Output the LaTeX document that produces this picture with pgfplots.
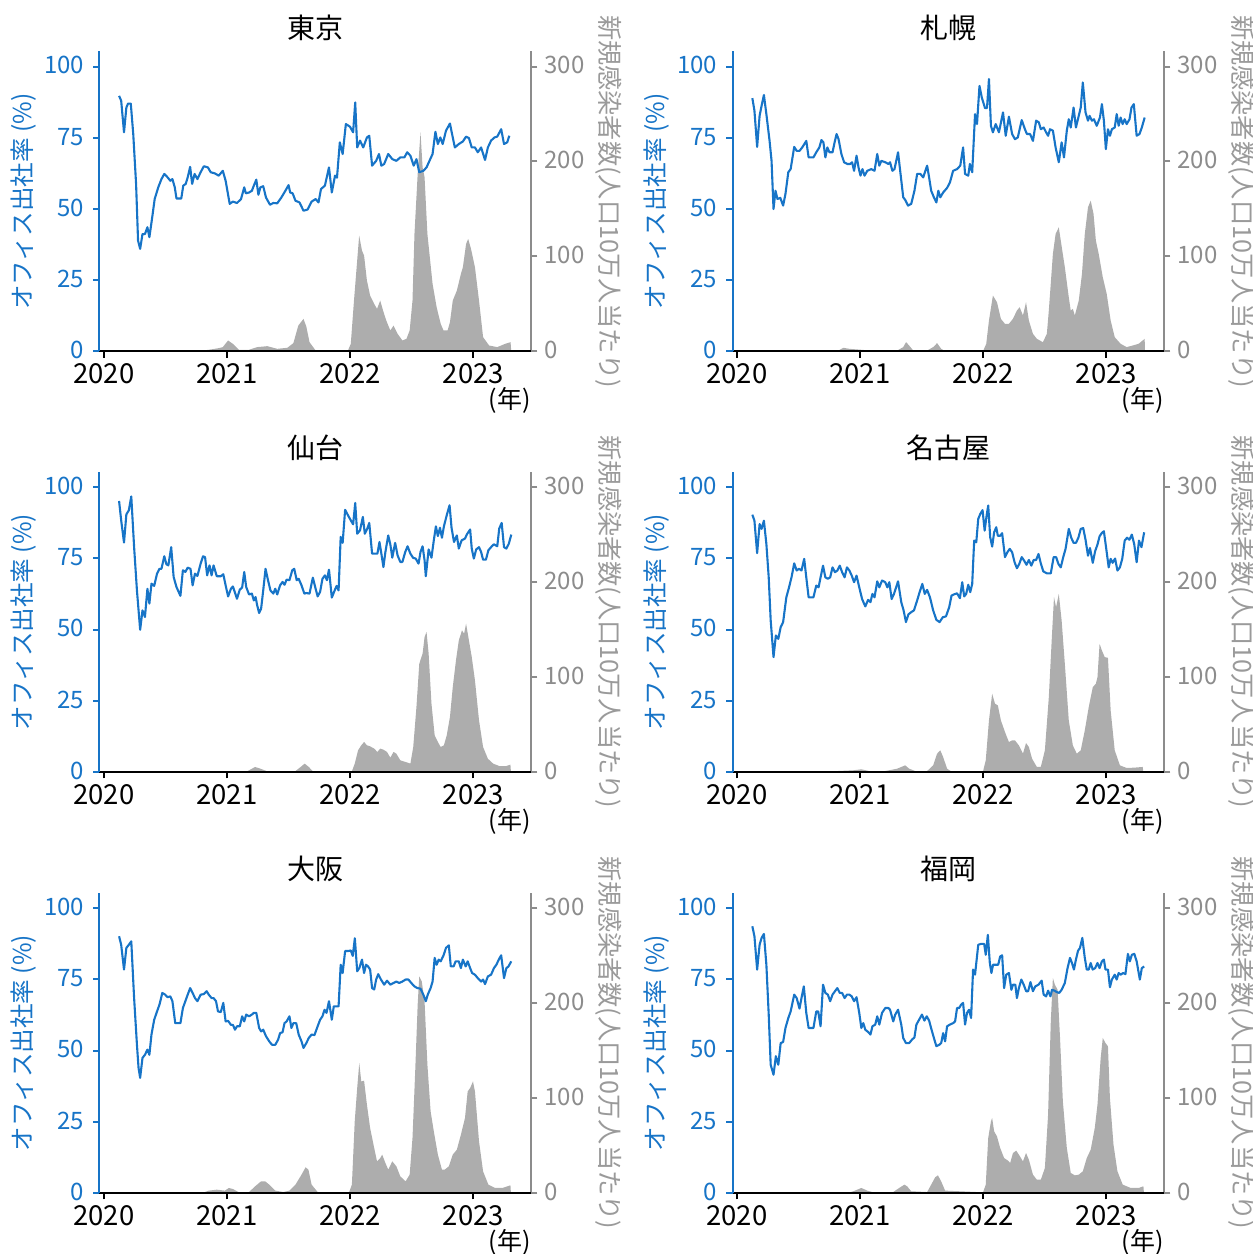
\documentclass[border=0pt]{standalone}
\usepackage{fontspec}
\setmainfont{Noto Sans CJK JP}
\usepackage{pgfplots}
\usepackage{pgfplotstable}
\pgfplotsset{compat=1.18}
\definecolor{lineblue}{HTML}{1774C7}
\definecolor{areagray}{HTML}{ADADAD}
\definecolor{axgray}{HTML}{8C8C8C}
\definecolor{labgray}{HTML}{9A9A9A}

% ---------------- Tokyo ----------------
\pgfplotstableread{
x y
2020.124 89.7
2020.141 88.0
2020.164 76.9
2020.183 85.6
2020.197 87.0
2020.219 87.0
2020.239 76.3
2020.262 58.8
2020.278 38.9
2020.295 36.0
2020.314 41.2
2020.334 41.2
2020.354 43.6
2020.370 40.1
2020.393 47.1
2020.413 53.5
2020.442 57.6
2020.468 60.5
2020.491 62.3
2020.518 61.1
2020.540 59.9
2020.557 60.5
2020.576 57.6
2020.590 53.7
2020.629 53.7
2020.645 58.2
2020.665 58.8
2020.681 61.1
2020.701 64.8
2020.717 58.8
2020.737 62.3
2020.760 60.5
2020.786 62.9
2020.812 65.0
2020.845 64.6
2020.868 62.9
2020.901 62.5
2020.933 61.7
2020.966 63.4
2020.989 59.9
2021.022 51.8
2021.048 52.6
2021.081 52.1
2021.114 53.5
2021.140 57.6
2021.153 55.5
2021.179 55.8
2021.202 56.4
2021.218 58.2
2021.238 60.3
2021.255 55.0
2021.271 57.6
2021.294 58.0
2021.317 54.0
2021.349 51.5
2021.376 52.1
2021.408 52.0
2021.441 54.0
2021.474 56.4
2021.500 58.4
2021.513 55.8
2021.533 55.5
2021.556 52.9
2021.589 52.3
2021.621 49.4
2021.654 49.8
2021.687 52.6
2021.720 53.5
2021.743 52.3
2021.763 57.0
2021.795 58.2
2021.828 64.6
2021.851 55.8
2021.877 61.7
2021.893 61.0
2021.916 73.4
2021.939 69.3
2021.965 79.8
2021.998 78.9
2022.024 76.9
2022.041 87.4
2022.057 71.6
2022.080 74.0
2022.106 71.6
2022.136 75.1
2022.155 75.7
2022.178 65.2
2022.211 66.9
2022.234 69.3
2022.253 65.2
2022.276 65.8
2022.309 69.3
2022.342 67.5
2022.375 66.9
2022.407 68.1
2022.440 68.1
2022.463 69.9
2022.489 68.7
2022.516 65.2
2022.538 67.5
2022.561 62.9
2022.594 63.4
2022.620 64.6
2022.647 67.2
2022.669 69.3
2022.692 77.1
2022.712 72.8
2022.732 75.1
2022.751 72.8
2022.778 77.5
2022.810 80.0
2022.833 75.1
2022.850 71.6
2022.882 72.8
2022.915 73.7
2022.941 75.4
2022.964 74.9
2022.987 71.6
2023.013 71.6
2023.036 69.9
2023.063 71.6
2023.095 67.2
2023.118 71.6
2023.144 74.0
2023.171 75.1
2023.194 75.4
2023.226 78.0
2023.249 72.8
2023.275 73.4
2023.292 75.7
}\tokyoline
\pgfplotstableread{
x y
2020.000 0
2020.450 0
2020.520 1.5
2020.600 0.5
2020.800 1.0
2020.852 1.8
2020.933 3.5
2020.966 4.6
2021.009 11.6
2021.048 8.0
2021.097 1.8
2021.179 1.8
2021.245 4.6
2021.327 5.6
2021.408 2.8
2021.490 3.9
2021.539 8.8
2021.579 27.3
2021.621 34.3
2021.644 26.3
2021.670 9.8
2021.720 1.0
2021.982 1.0
2022.005 8.0
2022.031 53.6
2022.073 122.0
2022.096 106.2
2022.113 100.9
2022.136 74.7
2022.162 58.9
2022.195 50.1
2022.218 44.9
2022.244 53.6
2022.267 43.1
2022.293 32.6
2022.326 22.1
2022.352 27.3
2022.385 18.6
2022.424 11.6
2022.457 13.3
2022.483 22.1
2022.506 53.6
2022.522 123.7
2022.548 186.8
2022.571 230.6
2022.588 193.8
2022.604 183.3
2022.627 123.7
2022.669 71.2
2022.702 46.6
2022.735 29.1
2022.758 22.1
2022.791 22.1
2022.810 30.8
2022.833 53.6
2022.866 64.1
2022.899 81.7
2022.915 88.7
2022.941 113.2
2022.958 118.5
2022.981 108.0
2023.013 88.7
2023.046 53.6
2023.079 15.1
2023.128 6.3
2023.194 4.6
2023.259 8.1
2023.302 9.8
2023.308 0
}\tokyoarea

% ---------------- Sapporo ----------------
\pgfplotstableread{
x y
2020.126 88.9
2020.143 84.5
2020.165 71.8
2020.185 82.7
2020.201 86.2
2020.220 90.0
2020.240 83.3
2020.266 73.9
2020.282 66.9
2020.298 50.0
2020.314 56.4
2020.330 53.5
2020.353 53.9
2020.376 51.2
2020.395 55.3
2020.418 62.9
2020.437 64.0
2020.466 71.8
2020.486 70.4
2020.509 70.4
2020.531 71.6
2020.564 73.9
2020.583 68.1
2020.622 68.1
2020.645 69.9
2020.670 71.6
2020.687 74.2
2020.703 73.4
2020.719 68.1
2020.735 71.6
2020.752 69.9
2020.777 69.9
2020.794 73.4
2020.810 76.3
2020.826 74.5
2020.849 69.3
2020.871 66.4
2020.897 65.8
2020.920 65.8
2020.936 66.4
2020.952 63.4
2020.972 68.7
2020.988 64.6
2021.004 61.7
2021.020 64.0
2021.037 61.7
2021.059 63.4
2021.092 64.0
2021.118 63.4
2021.140 69.3
2021.157 65.2
2021.173 66.9
2021.205 66.4
2021.231 65.8
2021.244 66.4
2021.263 63.4
2021.280 64.0
2021.309 69.9
2021.351 54.1
2021.367 53.2
2021.390 51.2
2021.416 51.8
2021.442 56.4
2021.464 62.3
2021.490 62.3
2021.513 61.1
2021.545 65.2
2021.561 61.1
2021.578 56.4
2021.600 54.1
2021.620 52.3
2021.636 56.4
2021.652 54.1
2021.675 55.8
2021.707 57.4
2021.730 59.3
2021.756 63.4
2021.788 64.0
2021.814 65.2
2021.837 71.6
2021.853 62.3
2021.879 61.7
2021.892 65.8
2021.911 62.9
2021.934 83.3
2021.950 79.8
2021.970 93.2
2021.989 89.1
2022.015 85.4
2022.031 85.4
2022.047 95.6
2022.063 79.2
2022.079 76.9
2022.102 79.8
2022.128 76.9
2022.161 83.9
2022.183 75.7
2022.209 82.4
2022.235 76.3
2022.258 74.5
2022.281 75.1
2022.313 81.2
2022.339 78.0
2022.355 76.3
2022.381 76.3
2022.404 73.9
2022.430 81.0
2022.452 80.4
2022.468 78.0
2022.491 78.6
2022.511 76.9
2022.527 75.7
2022.543 78.0
2022.566 77.5
2022.588 71.6
2022.614 66.4
2022.637 73.4
2022.656 68.1
2022.679 77.5
2022.695 81.5
2022.711 78.6
2022.734 85.6
2022.753 78.6
2022.776 82.7
2022.792 85.6
2022.809 94.4
2022.831 83.9
2022.851 81.0
2022.864 82.7
2022.883 81.0
2022.899 81.5
2022.922 79.2
2022.948 82.1
2022.964 86.8
2022.980 81.0
2022.996 71.0
2023.013 78.0
2023.029 75.7
2023.045 78.0
2023.068 78.6
2023.084 83.3
2023.100 79.2
2023.116 82.1
2023.132 79.8
2023.149 81.5
2023.165 79.8
2023.188 81.5
2023.204 85.6
2023.223 86.8
2023.246 75.7
2023.269 76.3
2023.288 78.6
2023.311 82.1
}\sapporoline
\pgfplotstableread{
x y
2020.000 0
2020.780 0
2020.816 0.4
2020.865 3.9
2020.913 2.8
2021.011 1.8
2021.075 1.0
2021.302 1.0
2021.351 4.6
2021.374 9.8
2021.399 6.3
2021.432 1.0
2021.545 1.0
2021.594 4.6
2021.626 8.8
2021.659 2.8
2021.691 0.4
2021.999 0.4
2022.025 8.1
2022.047 32.6
2022.079 58.9
2022.112 51.9
2022.144 34.3
2022.177 29.1
2022.209 29.1
2022.241 34.3
2022.274 43.1
2022.296 46.6
2022.323 37.9
2022.348 51.9
2022.371 32.6
2022.404 18.6
2022.436 13.3
2022.485 9.8
2022.517 18.6
2022.533 43.1
2022.566 102.7
2022.588 123.7
2022.614 130.7
2022.630 116.7
2022.663 88.7
2022.695 57.1
2022.711 43.1
2022.728 44.9
2022.744 37.9
2022.776 53.6
2022.802 81.7
2022.825 123.7
2022.851 151.8
2022.873 158.8
2022.896 144.8
2022.915 116.7
2022.938 102.7
2022.971 78.2
2023.003 60.6
2023.035 32.6
2023.068 15.1
2023.116 8.1
2023.165 4.6
2023.214 6.3
2023.262 8.1
2023.311 13.3
2023.314 0
}\sapporoarea

% ---------------- Sendai ----------------
\pgfplotstableread{
x y
2020.124 95.1
2020.141 88.3
2020.164 80.5
2020.183 90.4
2020.203 91.8
2020.223 96.7
2020.246 78.9
2020.269 63.7
2020.295 49.9
2020.314 56.7
2020.334 54.4
2020.354 64.3
2020.370 59.1
2020.387 66.1
2020.409 65.3
2020.432 69.6
2020.452 71.3
2020.468 71.3
2020.491 75.7
2020.508 72.9
2020.524 72.5
2020.547 78.9
2020.567 68.4
2020.590 64.9
2020.622 61.8
2020.642 70.8
2020.662 70.2
2020.681 71.7
2020.704 71.3
2020.721 65.5
2020.740 69.6
2020.760 68.8
2020.786 73.1
2020.806 75.7
2020.822 75.4
2020.839 69.0
2020.858 72.5
2020.875 69.0
2020.891 72.5
2020.917 68.7
2020.950 68.7
2020.970 69.4
2020.989 65.5
2021.009 61.6
2021.032 64.3
2021.048 65.1
2021.081 60.8
2021.104 64.0
2021.123 64.7
2021.140 70.2
2021.156 64.9
2021.179 62.3
2021.202 62.6
2021.218 60.2
2021.232 61.4
2021.245 58.5
2021.261 55.8
2021.277 57.3
2021.294 63.7
2021.313 71.3
2021.333 67.3
2021.353 63.7
2021.376 62.6
2021.392 64.3
2021.408 62.3
2021.431 65.5
2021.451 66.7
2021.467 65.7
2021.484 67.5
2021.507 67.3
2021.530 70.8
2021.546 71.3
2021.566 67.3
2021.582 67.8
2021.605 65.5
2021.628 62.6
2021.644 62.8
2021.670 62.6
2021.697 68.2
2021.716 64.9
2021.736 61.6
2021.756 63.2
2021.775 67.8
2021.795 69.0
2021.811 67.3
2021.828 71.0
2021.851 61.2
2021.874 63.7
2021.890 65.3
2021.906 63.7
2021.923 82.5
2021.939 80.4
2021.959 92.0
2021.982 90.1
2022.005 88.3
2022.024 86.9
2022.041 94.4
2022.057 83.6
2022.080 84.8
2022.103 89.5
2022.119 83.6
2022.139 85.4
2022.155 87.4
2022.178 76.6
2022.201 76.6
2022.221 76.6
2022.238 80.7
2022.254 76.4
2022.270 71.9
2022.286 77.2
2022.309 83.0
2022.326 79.9
2022.342 75.2
2022.365 80.4
2022.385 76.0
2022.407 73.7
2022.424 73.7
2022.447 77.2
2022.466 79.2
2022.489 76.6
2022.512 75.1
2022.532 74.9
2022.555 73.1
2022.571 77.2
2022.588 79.2
2022.604 74.3
2022.614 68.7
2022.637 78.1
2022.660 75.2
2022.679 81.3
2022.696 86.2
2022.712 82.8
2022.729 85.7
2022.745 82.2
2022.761 86.2
2022.784 90.1
2022.807 93.6
2022.823 85.7
2022.843 80.7
2022.866 83.0
2022.882 78.4
2022.905 81.3
2022.932 81.9
2022.948 83.4
2022.974 85.1
2022.987 78.4
2023.004 74.9
2023.023 78.1
2023.046 78.9
2023.063 77.2
2023.079 74.5
2023.102 74.5
2023.122 77.8
2023.144 78.9
2023.167 79.9
2023.194 79.2
2023.210 85.4
2023.230 87.4
2023.249 78.9
2023.268 78.4
2023.288 80.1
2023.308 83.3
}\sendailine
\pgfplotstableread{
x y
2020.000 0
2020.950 0
2020.983 0.7
2021.048 1.0
2021.097 0
2021.150 0
2021.179 1.8
2021.228 5.3
2021.271 3.5
2021.327 0.7
2021.556 1.0
2021.598 5.3
2021.631 8.8
2021.664 5.3
2021.697 0.7
2022.014 0.7
2022.037 8.8
2022.064 22.8
2022.090 28.1
2022.113 31.6
2022.136 28.1
2022.162 27.0
2022.195 24.6
2022.221 21.1
2022.244 24.6
2022.270 23.5
2022.299 21.1
2022.326 15.1
2022.352 21.1
2022.375 19.3
2022.407 12.3
2022.450 10.5
2022.489 8.8
2022.512 26.3
2022.538 68.4
2022.561 114.0
2022.588 124.6
2022.604 142.1
2022.620 147.4
2022.637 124.6
2022.660 71.9
2022.686 38.6
2022.712 31.6
2022.735 26.3
2022.761 28.1
2022.784 38.6
2022.810 57.9
2022.833 89.5
2022.859 117.5
2022.882 138.6
2022.908 149.1
2022.925 145.6
2022.941 156.1
2022.964 138.6
2022.987 121.1
2023.013 96.5
2023.046 54.4
2023.079 26.3
2023.118 14.0
2023.161 8.8
2023.210 6.3
2023.268 6.3
2023.301 7.7
2023.305 0
}\sendaiarea

% ---------------- Nagoya ----------------
\pgfplotstableread{
x y
2020.126 90.3
2020.143 88.2
2020.165 76.8
2020.185 87.0
2020.201 85.3
2020.220 88.2
2020.240 80.0
2020.259 68.3
2020.275 53.2
2020.298 40.3
2020.317 47.9
2020.337 46.7
2020.356 50.8
2020.376 52.6
2020.402 61.3
2020.421 64.3
2020.444 68.3
2020.466 73.2
2020.486 70.7
2020.505 71.3
2020.525 70.7
2020.547 74.8
2020.564 68.3
2020.583 61.3
2020.622 61.3
2020.645 65.4
2020.664 64.8
2020.680 68.3
2020.700 72.4
2020.719 68.3
2020.739 67.8
2020.758 68.3
2020.777 71.8
2020.797 70.1
2020.816 70.7
2020.836 72.4
2020.855 70.1
2020.875 68.3
2020.894 71.8
2020.914 70.7
2020.933 68.9
2020.952 66.6
2020.972 68.9
2020.994 64.8
2021.017 60.7
2021.043 58.1
2021.066 60.4
2021.085 59.6
2021.101 62.5
2021.118 61.3
2021.140 66.9
2021.157 64.8
2021.179 67.2
2021.205 66.6
2021.222 64.8
2021.238 66.6
2021.257 60.7
2021.276 62.5
2021.309 66.9
2021.335 59.6
2021.354 56.7
2021.373 52.6
2021.393 55.3
2021.416 56.1
2021.438 56.7
2021.464 60.2
2021.484 63.1
2021.506 66.0
2021.526 62.5
2021.545 63.9
2021.568 61.3
2021.594 56.7
2021.620 53.4
2021.646 52.6
2021.672 54.3
2021.698 54.6
2021.724 57.8
2021.743 61.9
2021.762 62.3
2021.788 62.7
2021.811 61.0
2021.830 66.6
2021.846 61.6
2021.862 62.5
2021.879 65.7
2021.895 63.1
2021.911 66.0
2021.927 81.2
2021.944 80.6
2021.960 88.8
2021.976 90.5
2021.995 91.9
2022.012 84.7
2022.028 90.0
2022.041 93.5
2022.057 82.4
2022.073 79.1
2022.089 84.1
2022.106 85.9
2022.119 82.9
2022.138 82.9
2022.154 83.8
2022.177 75.4
2022.196 77.1
2022.216 78.3
2022.235 77.1
2022.255 73.6
2022.274 71.5
2022.293 73.0
2022.313 75.4
2022.332 74.2
2022.352 72.7
2022.371 74.4
2022.391 72.4
2022.410 74.4
2022.430 74.4
2022.449 76.5
2022.468 73.2
2022.488 70.4
2022.517 69.7
2022.549 69.7
2022.572 75.4
2022.592 75.4
2022.611 73.0
2022.630 71.8
2022.650 75.4
2022.669 78.3
2022.695 85.3
2022.715 82.2
2022.734 80.4
2022.753 80.4
2022.773 82.2
2022.792 85.3
2022.812 85.6
2022.831 81.5
2022.851 75.9
2022.867 78.6
2022.890 73.4
2022.909 77.5
2022.928 79.8
2022.945 82.7
2022.964 83.9
2022.980 84.5
2023.003 77.1
2023.019 71.8
2023.035 74.8
2023.051 73.4
2023.071 74.9
2023.090 70.7
2023.110 71.8
2023.129 74.8
2023.149 81.2
2023.168 82.2
2023.187 81.5
2023.207 83.3
2023.226 80.0
2023.246 73.6
2023.265 81.2
2023.285 78.9
2023.307 84.1
}\nagoyaline
\pgfplotstableread{
x y
2020.000 0
2020.520 0
2020.557 1.0
2020.622 0
2020.780 0
2020.816 1.0
2020.946 1.8
2021.011 2.8
2021.075 1.0
2021.205 1.0
2021.302 3.5
2021.367 7.0
2021.399 3.5
2021.448 1.0
2021.545 1.0
2021.594 7.0
2021.626 19.3
2021.652 22.8
2021.675 15.8
2021.707 3.5
2021.740 0.7
2021.999 0.7
2022.021 12.3
2022.047 54.3
2022.073 82.4
2022.096 71.9
2022.119 70.1
2022.144 54.3
2022.177 42.1
2022.209 31.5
2022.235 33.3
2022.258 33.3
2022.290 28.0
2022.323 19.3
2022.348 30.5
2022.371 26.3
2022.397 14.0
2022.436 5.3
2022.468 5.3
2022.501 22.8
2022.533 78.9
2022.559 145.4
2022.575 184.0
2022.592 173.5
2022.614 187.5
2022.637 159.5
2022.663 113.9
2022.695 54.3
2022.728 28.0
2022.760 19.3
2022.792 22.8
2022.825 43.8
2022.857 68.3
2022.890 89.4
2022.915 92.9
2022.928 99.9
2022.945 134.9
2022.964 127.9
2022.987 120.9
2023.013 120.2
2023.035 64.8
2023.068 22.8
2023.110 7.0
2023.165 4.2
2023.230 4.6
2023.295 5.3
2023.300 0
}\nagoyaarea

% ---------------- Osaka ----------------
\pgfplotstableread{
x y
2020.124 90.1
2020.141 87.1
2020.164 78.4
2020.183 86.0
2020.203 87.1
2020.223 88.3
2020.246 68.4
2020.269 52.0
2020.282 43.9
2020.295 40.4
2020.314 47.4
2020.334 48.5
2020.354 50.3
2020.370 48.5
2020.387 55.6
2020.409 60.8
2020.432 63.7
2020.452 66.1
2020.475 70.2
2020.498 69.6
2020.518 68.7
2020.540 69.0
2020.557 67.3
2020.580 59.6
2020.622 59.6
2020.642 64.9
2020.662 67.3
2020.681 69.6
2020.701 71.9
2020.721 70.2
2020.740 68.4
2020.760 67.3
2020.786 69.6
2020.812 69.8
2020.835 70.8
2020.852 69.6
2020.875 68.4
2020.891 68.4
2020.911 67.3
2020.927 63.7
2020.950 63.5
2020.970 66.7
2020.989 60.2
2021.009 60.4
2021.032 59.0
2021.048 59.0
2021.065 57.3
2021.081 58.5
2021.104 58.5
2021.123 62.0
2021.140 60.2
2021.156 62.6
2021.179 62.0
2021.202 62.6
2021.218 63.2
2021.238 63.2
2021.261 57.9
2021.277 56.7
2021.294 57.3
2021.317 55.0
2021.343 53.2
2021.366 52.0
2021.392 52.0
2021.415 53.8
2021.431 56.1
2021.451 56.4
2021.467 59.6
2021.484 60.2
2021.507 62.0
2021.523 57.9
2021.539 59.6
2021.562 59.6
2021.582 55.6
2021.605 53.2
2021.621 50.9
2021.644 52.6
2021.664 54.4
2021.687 55.6
2021.710 55.4
2021.736 58.5
2021.756 60.8
2021.775 62.0
2021.792 64.3
2021.808 63.2
2021.828 67.3
2021.851 60.8
2021.867 65.5
2021.887 65.5
2021.906 65.5
2021.923 80.1
2021.939 77.2
2021.959 84.9
2021.982 84.9
2022.005 85.1
2022.021 83.2
2022.038 89.4
2022.057 77.8
2022.074 78.9
2022.096 81.9
2022.113 77.2
2022.129 80.1
2022.145 79.5
2022.162 78.4
2022.178 71.9
2022.195 71.4
2022.211 74.9
2022.228 76.8
2022.250 74.9
2022.276 73.1
2022.299 74.5
2022.326 73.1
2022.352 73.7
2022.375 74.2
2022.398 73.7
2022.424 74.2
2022.450 74.9
2022.473 74.9
2022.496 73.7
2022.522 72.5
2022.545 71.9
2022.571 71.7
2022.594 69.6
2022.614 67.3
2022.630 69.6
2022.653 71.9
2022.669 74.2
2022.686 82.5
2022.702 80.1
2022.719 81.9
2022.735 81.3
2022.758 83.4
2022.778 86.0
2022.801 86.9
2022.817 79.5
2022.840 79.5
2022.856 81.3
2022.882 81.3
2022.899 78.9
2022.915 81.9
2022.938 79.5
2022.954 81.3
2022.974 78.9
2022.990 77.2
2023.013 76.6
2023.036 75.4
2023.063 74.2
2023.079 74.9
2023.095 73.3
2023.118 76.0
2023.144 76.6
2023.167 78.9
2023.187 80.1
2023.210 82.2
2023.226 83.4
2023.249 75.4
2023.268 78.9
2023.285 79.5
2023.308 81.3
}\osakaline
\pgfplotstableread{
x y
2020.000 0
2020.520 0
2020.557 1.0
2020.622 0
2020.800 0
2020.852 2.5
2020.917 3.5
2020.983 2.5
2021.015 5.3
2021.048 4.2
2021.097 0.7
2021.179 1.0
2021.228 7.0
2021.277 12.3
2021.310 12.3
2021.343 8.8
2021.392 2.5
2021.458 1.0
2021.507 2.5
2021.556 8.8
2021.605 19.3
2021.638 27.0
2021.661 24.6
2021.687 8.8
2021.736 1.0
2021.991 0.7
2022.014 8.8
2022.037 75.4
2022.057 110.5
2022.074 136.8
2022.090 117.5
2022.113 118.2
2022.136 93.0
2022.162 68.4
2022.195 47.4
2022.218 33.3
2022.244 36.8
2022.260 40.4
2022.286 31.6
2022.309 24.6
2022.342 33.3
2022.375 28.1
2022.407 17.5
2022.450 12.3
2022.483 19.3
2022.506 57.9
2022.529 131.6
2022.548 198.2
2022.561 228.1
2022.581 222.8
2022.604 201.8
2022.627 135.1
2022.653 86.0
2022.679 64.9
2022.712 40.4
2022.745 24.6
2022.768 24.6
2022.801 28.1
2022.833 40.4
2022.866 45.6
2022.899 61.4
2022.932 78.9
2022.954 107.0
2022.974 110.5
2022.997 117.5
2023.013 107.0
2023.046 54.4
2023.079 22.8
2023.122 8.8
2023.177 5.3
2023.236 5.3
2023.301 8.1
2023.305 0
}\osakaarea

% ---------------- Fukuoka ----------------
\pgfplotstableread{
x y
2020.126 93.6
2020.143 90.1
2020.165 78.4
2020.185 87.1
2020.201 89.5
2020.220 90.9
2020.240 80.1
2020.259 62.6
2020.275 45.0
2020.298 41.5
2020.317 48.0
2020.337 45.0
2020.356 52.6
2020.376 53.0
2020.395 57.9
2020.418 61.4
2020.437 63.7
2020.466 69.6
2020.486 68.4
2020.509 64.7
2020.525 68.4
2020.544 72.5
2020.564 63.2
2020.583 57.9
2020.622 57.9
2020.645 63.7
2020.661 63.7
2020.680 58.5
2020.700 73.1
2020.719 70.2
2020.739 69.6
2020.758 67.3
2020.777 69.6
2020.797 70.8
2020.816 71.9
2020.836 70.2
2020.855 70.2
2020.875 68.4
2020.894 69.6
2020.914 69.6
2020.933 69.0
2020.952 67.3
2020.972 68.7
2020.994 63.2
2021.011 57.9
2021.027 59.6
2021.043 57.3
2021.066 56.5
2021.085 55.6
2021.101 58.5
2021.124 59.1
2021.140 62.0
2021.157 59.1
2021.179 63.2
2021.205 64.9
2021.231 64.9
2021.244 64.3
2021.270 60.2
2021.286 62.6
2021.309 64.3
2021.335 59.1
2021.351 54.4
2021.373 52.6
2021.399 52.6
2021.422 53.8
2021.442 54.6
2021.458 59.1
2021.480 60.8
2021.503 62.6
2021.523 60.5
2021.542 62.0
2021.561 60.5
2021.581 57.3
2021.600 54.4
2021.620 51.5
2021.643 52.0
2021.659 52.6
2021.675 56.1
2021.691 53.2
2021.707 58.5
2021.730 59.1
2021.756 59.6
2021.772 60.2
2021.788 64.9
2021.805 64.9
2021.821 66.1
2021.837 66.7
2021.853 59.1
2021.869 63.2
2021.885 64.3
2021.902 61.4
2021.918 78.4
2021.934 76.6
2021.960 87.1
2021.982 87.4
2022.008 87.4
2022.021 83.6
2022.038 90.6
2022.054 80.7
2022.067 77.2
2022.080 80.1
2022.102 80.1
2022.122 80.1
2022.138 83.0
2022.154 83.4
2022.170 71.9
2022.187 76.6
2022.209 77.2
2022.229 71.3
2022.242 73.1
2022.261 73.1
2022.274 68.4
2022.290 71.9
2022.310 74.9
2022.329 73.1
2022.349 70.8
2022.365 70.8
2022.384 74.0
2022.404 70.8
2022.423 72.5
2022.449 73.1
2022.475 74.5
2022.491 69.6
2022.511 69.0
2022.527 71.0
2022.546 69.0
2022.559 71.3
2022.579 71.0
2022.598 70.5
2022.617 70.2
2022.637 71.3
2022.663 73.7
2022.685 78.9
2022.705 82.5
2022.721 80.7
2022.737 78.4
2022.753 81.9
2022.770 85.0
2022.786 86.0
2022.805 89.5
2022.825 82.5
2022.841 78.4
2022.857 78.4
2022.873 80.7
2022.889 78.4
2022.909 78.9
2022.928 80.7
2022.945 78.9
2022.964 81.3
2022.980 81.9
2022.993 78.4
2023.013 78.4
2023.029 72.2
2023.045 74.9
2023.068 76.6
2023.084 74.9
2023.100 77.2
2023.116 76.6
2023.136 77.2
2023.155 76.8
2023.175 83.9
2023.191 81.3
2023.207 83.6
2023.227 83.9
2023.246 81.3
2023.272 74.9
2023.288 78.9
2023.307 79.5
}\fukuokaline
\pgfplotstableread{
x y
2020.000 0
2020.520 0
2020.557 1.0
2020.622 0
2020.900 0
2020.946 1.8
2021.011 5.3
2021.059 2.5
2021.108 0.7
2021.270 1.0
2021.318 5.3
2021.361 8.8
2021.383 7.0
2021.416 1.8
2021.545 1.0
2021.578 8.8
2021.610 16.5
2021.633 18.6
2021.659 12.3
2021.691 2.5
2021.999 0.7
2022.021 8.8
2022.041 57.9
2022.063 75.4
2022.073 78.9
2022.089 64.9
2022.112 59.6
2022.138 47.4
2022.170 36.8
2022.203 34.0
2022.219 31.6
2022.242 42.1
2022.268 44.6
2022.290 40.4
2022.323 33.3
2022.348 42.1
2022.371 35.1
2022.404 19.3
2022.436 14.0
2022.468 14.0
2022.501 26.3
2022.527 82.5
2022.549 180.7
2022.566 226.3
2022.582 219.3
2022.604 214.0
2022.624 163.2
2022.647 96.5
2022.679 47.4
2022.711 21.1
2022.744 18.6
2022.776 19.3
2022.809 22.8
2022.841 36.8
2022.873 45.6
2022.906 68.4
2022.928 93.0
2022.954 142.1
2022.971 163.2
2022.993 157.9
2023.013 154.4
2023.029 100.0
2023.058 50.9
2023.090 22.8
2023.133 8.8
2023.198 5.3
2023.262 5.3
2023.301 7.0
2023.305 0
}\fukuokaarea

\pgfplotsset{
  common/.style={
    scale only axis, width=215.75pt, height=150pt, anchor=south west,
    xmin=2019.965, xmax=2023.468, enlargelimits=false,
    tick align=outside, major tick length=3.25pt,
    /pgf/number format/assume math mode=true,
    axis line style={-, line width=1pt},
    every tick/.style={line width=1pt},
  },
  rightax/.style={common,
    ymin=0, ymax=315.8,
    axis y line*=right, hide x axis,
    ytick={0,100,200,300},
    y axis line style={axgray},
    ytick style={axgray, line width=1pt},
    yticklabel style={axgray, inner xsep=3.25pt, inner ysep=0.5pt,
      text height=0.74em, text depth=0pt, font=\fontsize{12}{14}\selectfont},
  },
  leftax/.style={common,
    ymin=0, ymax=105.27,
    axis y line*=left, axis x line*=bottom,
    ytick={0,25,50,75,100},
    xtick={2020,2021,2022,2023},
    xticklabels={2020,2021,2022,2023},
    y axis line style={lineblue},
    x axis line style={black},
    ytick style={lineblue, line width=1pt},
    xtick style={black, line width=1pt},
    yticklabel style={lineblue, inner xsep=4.25pt, inner ysep=0.5pt,
      text height=0.74em, text depth=0pt, font=\fontsize{12}{14}\selectfont},
    xticklabel style={inner xsep=1pt, inner ysep=1pt, yshift=-4.2pt,
      text height=0.74em, text depth=0pt, font=\fontsize{13.75}{15}\selectfont},
  },
}

\newcommand{\Panel}[5]{%
  \begin{axis}[rightax, at={(#1,#2)}]
    \addplot[fill=areagray, draw=none] table {#5};
  \end{axis}
  \begin{axis}[leftax, at={(#1,#2)}]
    \addplot[lineblue, line width=1.05pt, line join=round] table {#4};
  \end{axis}
  \node[font=\fontsize{14}{16}\selectfont, black] at ([xshift=107.875pt, yshift=162pt]#1,#2) {#3};
  \node[font=\fontsize{12.3}{14}\selectfont, lineblue, rotate=90] at ([xshift=-37.75pt, yshift=75pt]#1,#2) {オフィス出社率 (\%)};
  \node[font=\fontsize{12.6}{14}\selectfont, labgray, rotate=-90] at ([xshift=254.5pt, yshift=75pt]#1,#2) {新規感染者数(人口10万人当たり)};
  \node[font=\fontsize{12.5}{14}\selectfont, black, anchor=east, inner sep=0pt] at ([xshift=215.75pt, yshift=-24.5pt]#1,#2) {(年)};
}

\begin{document}
\begin{tikzpicture}
\useasboundingbox (0,0) rectangle (626.5pt,627pt);
\Panel{49.75pt}{451.25pt}{東京}{\tokyoline}{\tokyoarea}
\Panel{366.25pt}{451.25pt}{札幌}{\sapporoline}{\sapporoarea}
\Panel{49.75pt}{241pt}{仙台}{\sendailine}{\sendaiarea}
\Panel{366.25pt}{241pt}{名古屋}{\nagoyaline}{\nagoyaarea}
\Panel{49.75pt}{30.5pt}{大阪}{\osakaline}{\osakaarea}
\Panel{366.25pt}{30.5pt}{福岡}{\fukuokaline}{\fukuokaarea}
\end{tikzpicture}
\end{document}
